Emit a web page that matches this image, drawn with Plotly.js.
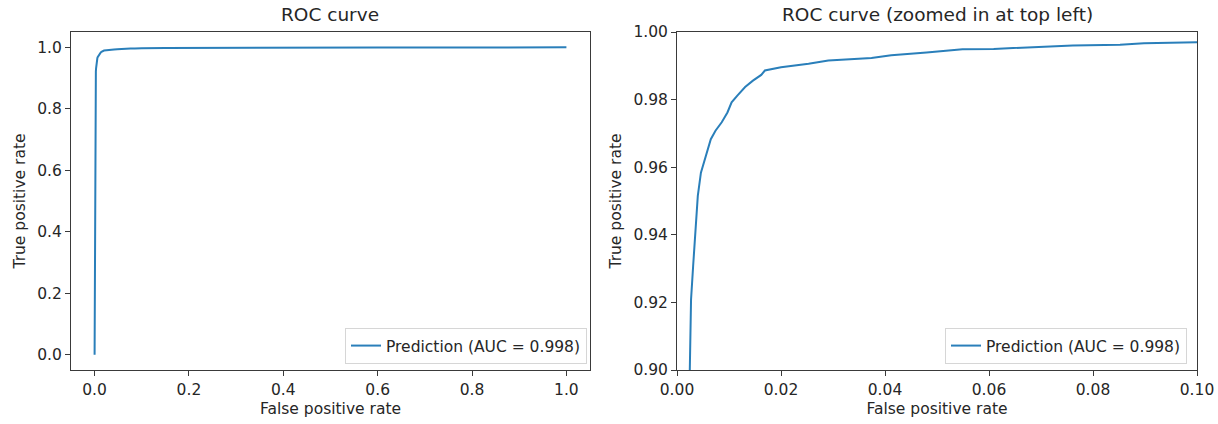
<!DOCTYPE html>
<html>
<head>
<meta charset="utf-8">
<script src="https://cdn.plot.ly/plotly-3.0.1.min.js"></script>
<style>html,body{margin:0;padding:0;background:#fff;}#chart{width:1218px;height:424px;}</style>
</head>
<body>
<div id="chart"></div>
<script>
// ROC curve values
const fpr = [0, 0.0005, 0.0012, 0.0020, 0.0025, 0.0027, 0.0031, 0.0035, 0.0040, 0.0046, 0.0052, 0.0059, 0.0065, 0.0074, 0.0086, 0.0097, 0.0105, 0.0116, 0.0131, 0.0146, 0.0162, 0.0169, 0.0200, 0.0253, 0.0291, 0.0374, 0.0412, 0.0480, 0.0549, 0.0609, 0.0685, 0.0761, 0.0852, 0.0898, 0.1000, 0.15, 0.25, 0.4, 0.6, 0.8, 1.0];
const tpr = [0, 0.40, 0.72, 0.86, 0.90, 0.9208, 0.9307, 0.9406, 0.9515, 0.9584, 0.9614, 0.9653, 0.9683, 0.9708, 0.9733, 0.9762, 0.9792, 0.9812, 0.9837, 0.9856, 0.9873, 0.9886, 0.9896, 0.9906, 0.9916, 0.9923, 0.9931, 0.9939, 0.9949, 0.9950, 0.9955, 0.9960, 0.9962, 0.9967, 0.9970, 0.9980, 0.9988, 0.9994, 0.9998, 0.9999, 1.0];
const seriesName = "Prediction (AUC = 0.998)";
const titles = ["ROC curve", "ROC curve (zoomed in at top left)"];
const xTitle = "False positive rate";
const yTitle = "True positive rate";
const leftTicks = [0, 0.2, 0.4, 0.6, 0.8, 1.0];
const rightXTicks = [0, 0.02, 0.04, 0.06, 0.08, 0.10];
const rightYTicks = [0.90, 0.92, 0.94, 0.96, 0.98, 1.00];

const W = 1218, H = 424;
const FONT = "DejaVu Sans, sans-serif";
const TXT = "#262626";
const LINE = "#2a7fba";
const FS = 15.5;

const axisBase = {
  showgrid: false, zeroline: false, showline: true, mirror: true,
  linecolor: "#3a3a3a", linewidth: 1, ticks: "outside", ticklen: 5,
  tickcolor: "#3a3a3a", tickwidth: 1, automargin: false,
  tickfont: {family: FONT, size: FS, color: TXT}
};

const traces = [
  {x: fpr, y: tpr, type: "scatter", mode: "lines", name: seriesName,
   line: {color: LINE, width: 2}, xaxis: "x", yaxis: "y", legend: "legend"},
  {x: fpr, y: tpr, type: "scatter", mode: "lines", name: seriesName,
   line: {color: LINE, width: 2}, xaxis: "x2", yaxis: "y2", legend: "legend2"}
];

const yDom = [1 - 370 / H, 1 - 32 / H];
const legendBase = {
  bgcolor: "rgba(255,255,255,0.8)", bordercolor: "#d6d6d6", borderwidth: 1,
  font: {family: FONT, size: FS, color: TXT}, xanchor: "right", yanchor: "bottom",
  itemwidth: 30
};

const layout = {
  width: W, height: H,
  margin: {l: 0, r: 0, t: 0, b: 0},
  paper_bgcolor: "#fff", plot_bgcolor: "#fff",
  font: {family: FONT, color: TXT},
  xaxis: Object.assign({}, axisBase, {
    domain: [71 / W, 590 / W], range: [-0.05, 1.05],
    tickvals: leftTicks, tickformat: ".1f",
    title: {text: xTitle, font: {family: FONT, size: FS, color: TXT}, standoff: 5}
  }),
  yaxis: Object.assign({}, axisBase, {
    domain: yDom, range: [-0.05, 1.05],
    tickvals: leftTicks, tickformat: ".1f",
    title: {text: yTitle, font: {family: FONT, size: FS, color: TXT}, standoff: 7}
  }),
  xaxis2: Object.assign({}, axisBase, {
    domain: [677 / W, 1197 / W], range: [0, 0.1], anchor: "y2",
    tickvals: rightXTicks, tickformat: ".2f",
    title: {text: xTitle, font: {family: FONT, size: FS, color: TXT}, standoff: 5}
  }),
  yaxis2: Object.assign({}, axisBase, {
    domain: yDom, range: [0.9, 1.0], anchor: "x2",
    tickvals: rightYTicks, tickformat: ".2f",
    title: {text: yTitle, font: {family: FONT, size: FS, color: TXT}, standoff: 7}
  }),
  legend: Object.assign({}, legendBase, {x: 587 / W, y: 1 - 364 / H}),
  legend2: Object.assign({}, legendBase, {x: 1187 / W, y: 1 - 364 / H}),
  showlegend: true,
  annotations: [
    {text: titles[0], xref: "paper", yref: "paper", x: 330.5 / W, y: 1 - 15 / H,
     xanchor: "center", yanchor: "middle", showarrow: false,
     font: {family: FONT, size: 18.5, color: TXT}},
    {text: titles[1], xref: "paper", yref: "paper", x: 937 / W, y: 1 - 15 / H,
     xanchor: "center", yanchor: "middle", showarrow: false,
     font: {family: FONT, size: 18.5, color: TXT}}
  ]
};

Plotly.newPlot("chart", traces, layout, {staticPlot: true, displayModeBar: false});
</script>
</body>
</html>
